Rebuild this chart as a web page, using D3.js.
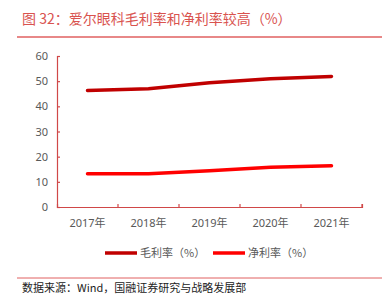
<!DOCTYPE html>
<html>
<head>
<meta charset="utf-8">
<script src="https://cdn.jsdelivr.net/npm/d3@7"></script>
<style>
body { margin: 0; background: #fff; }
svg text { font-family: "Noto Sans CJK SC", "Noto Sans", sans-serif; }
</style>
</head>
<body>
<svg id="chart" width="384" height="295"></svg>
<script>
var years = ['2017年', '2018年', '2019年', '2020年', '2021年'];
var grossMargin = [46.3, 47.0, 49.4, 51.0, 51.9];
var netMargin = [13.2, 13.2, 14.4, 15.8, 16.4];
var yTicks = [0, 10, 20, 30, 40, 50, 60];
var seriesNames = ['毛利率（%）', '净利率（%）'];
var seriesColors = ['#c00000', '#ff0000'];

var svg = d3.select('#chart');
var axisColor = '#d04848';

// title + rules
svg.append('text')
	.attr('x', 22).attr('y', 24)
	.attr('font-size', 14).attr('fill', '#d9534f')
	.text('图 32：爱尔眼科毛利率和净利率较高（%）');
svg.append('line').attr('x1', 17).attr('x2', 382).attr('y1', 37).attr('y2', 37)
	.attr('stroke', '#e06060').attr('stroke-width', 1.5);
svg.append('line').attr('x1', 17).attr('x2', 382).attr('y1', 278).attr('y2', 278)
	.attr('stroke', '#e06060').attr('stroke-width', 1);
svg.append('text')
	.attr('x', 22).attr('y', 292)
	.attr('font-size', 11).attr('fill', '#222')
	.text('数据来源：Wind，国融证券研究与战略发展部');

var x = d3.scaleBand().domain(years).range([57, 362]);
var y = d3.scaleLinear().domain([0, 60]).range([207, 56]);

var g = svg.append('g');

var yAxis = g.append('g')
	.attr('transform', 'translate(57,0)')
	.call(d3.axisLeft(y).tickValues(yTicks).tickSize(-3).tickPadding(9));
var xAxis = g.append('g')
	.attr('transform', 'translate(0,207)')
	.call(d3.axisBottom(x).tickSize(-3).tickPadding(12).tickSizeOuter(-3));

[yAxis, xAxis].forEach(function(a) {
	a.selectAll('path, line').attr('stroke', axisColor).attr('stroke-width', 1.2);
	a.selectAll('text').attr('fill', '#595959').attr('font-size', 11)
		.style('font-family', '"Noto Sans", "Noto Sans CJK SC", sans-serif');
});
// x ticks at band boundaries
xAxis.selectAll('.tick line').attr('x1', x.bandwidth() / 2).attr('x2', x.bandwidth() / 2);
xAxis.selectAll('.tick text').attr('dy', '0.71em');

var line = d3.line()
	.x(function(d, i) { return x(years[i]) + x.bandwidth() / 2; })
	.y(function(d) { return y(d); });

[grossMargin, netMargin].forEach(function(s, i) {
	g.append('path')
		.attr('d', line(s))
		.attr('fill', 'none')
		.attr('stroke', seriesColors[i])
		.attr('stroke-width', 3.5)
		.attr('stroke-linecap', 'round');
});

// legend
var legendX = [105, 213];
seriesNames.forEach(function(name, i) {
	svg.append('line')
		.attr('x1', legendX[i]).attr('x2', legendX[i] + 32)
		.attr('y1', 253).attr('y2', 253)
		.attr('stroke', seriesColors[i]).attr('stroke-width', 3.5);
	svg.append('text')
		.attr('x', legendX[i] + 35).attr('y', 257)
		.attr('font-size', 11).attr('fill', '#595959')
		.text(name);
});
</script>
</body>
</html>
